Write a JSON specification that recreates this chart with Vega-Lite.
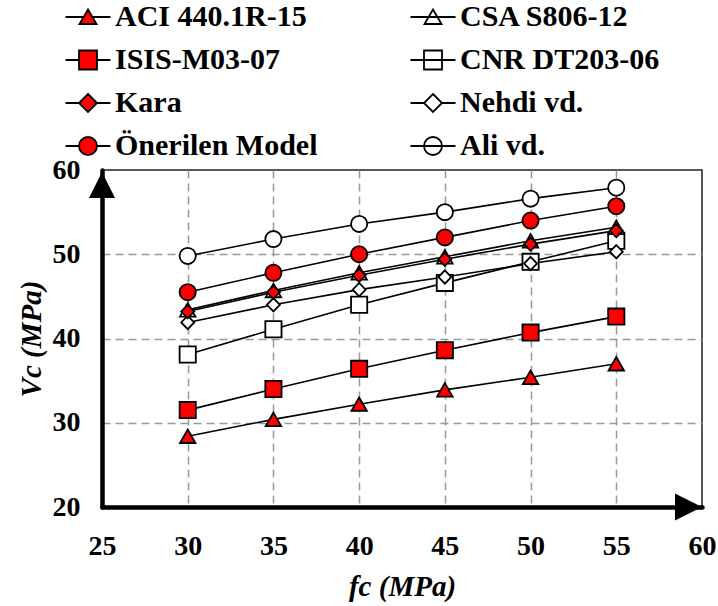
{
  "$schema": "https://vega.github.io/schema/vega-lite/v6.json",
  "width": 600,
  "height": 337,
  "autosize": "none",
  "padding": {"left": 102, "top": 170, "right": 16, "bottom": 99},
  "background": "white",
  "config": {
    "font": "Liberation Serif",
    "view": {"stroke": "#222222", "strokeWidth": 1.5},
    "axis": {
      "domainColor": "black",
      "domainWidth": 4.5,
      "domainCap": "round",
      "ticks": false,
      "tickSize": 0,
      "labelFont": "Liberation Serif",
      "labelFontWeight": "bold",
      "labelFontSize": 28,
      "labelColor": "black",
      "labelFlush": false,
      "labelOverlap": false,
      "titleFont": "Liberation Serif",
      "titleFontWeight": "bold",
      "titleFontStyle": "italic",
      "titleFontSize": 29,
      "titleColor": "#000000",
      "gridColor": "#999999",
      "gridDash": [8, 5],
      "gridWidth": 1.5
    }
  },
  "data": {
    "values": [
      {"series": "CNR DT203-06", "fc": 30, "Vc": 38.1},
      {"series": "CNR DT203-06", "fc": 35, "Vc": 41.1},
      {"series": "CNR DT203-06", "fc": 40, "Vc": 44.0},
      {"series": "CNR DT203-06", "fc": 45, "Vc": 46.6},
      {"series": "CNR DT203-06", "fc": 50, "Vc": 49.1},
      {"series": "CNR DT203-06", "fc": 55, "Vc": 51.6},
      {"series": "Nehdi vd.", "fc": 30, "Vc": 41.9},
      {"series": "Nehdi vd.", "fc": 35, "Vc": 44.0},
      {"series": "Nehdi vd.", "fc": 40, "Vc": 45.8},
      {"series": "Nehdi vd.", "fc": 45, "Vc": 47.3},
      {"series": "Nehdi vd.", "fc": 50, "Vc": 48.9},
      {"series": "Nehdi vd.", "fc": 55, "Vc": 50.3},
      {"series": "CSA S806-12", "fc": 30, "Vc": 43.4},
      {"series": "CSA S806-12", "fc": 35, "Vc": 45.7},
      {"series": "CSA S806-12", "fc": 40, "Vc": 47.8},
      {"series": "CSA S806-12", "fc": 45, "Vc": 49.7},
      {"series": "CSA S806-12", "fc": 50, "Vc": 51.6},
      {"series": "CSA S806-12", "fc": 55, "Vc": 53.2},
      {"series": "Kara", "fc": 30, "Vc": 43.2},
      {"series": "Kara", "fc": 35, "Vc": 45.5},
      {"series": "Kara", "fc": 40, "Vc": 47.5},
      {"series": "Kara", "fc": 45, "Vc": 49.4},
      {"series": "Kara", "fc": 50, "Vc": 51.2},
      {"series": "Kara", "fc": 55, "Vc": 52.8},
      {"series": "ACI 440.1R-15", "fc": 30, "Vc": 28.4},
      {"series": "ACI 440.1R-15", "fc": 35, "Vc": 30.4},
      {"series": "ACI 440.1R-15", "fc": 40, "Vc": 32.2},
      {"series": "ACI 440.1R-15", "fc": 45, "Vc": 33.9},
      {"series": "ACI 440.1R-15", "fc": 50, "Vc": 35.4},
      {"series": "ACI 440.1R-15", "fc": 55, "Vc": 37.0},
      {"series": "ISIS-M03-07", "fc": 30, "Vc": 31.5},
      {"series": "ISIS-M03-07", "fc": 35, "Vc": 34.0},
      {"series": "ISIS-M03-07", "fc": 40, "Vc": 36.4},
      {"series": "ISIS-M03-07", "fc": 45, "Vc": 38.6},
      {"series": "ISIS-M03-07", "fc": 50, "Vc": 40.7},
      {"series": "ISIS-M03-07", "fc": 55, "Vc": 42.6},
      {"series": "Ali vd.", "fc": 30, "Vc": 49.8},
      {"series": "Ali vd.", "fc": 35, "Vc": 51.8},
      {"series": "Ali vd.", "fc": 40, "Vc": 53.6},
      {"series": "Ali vd.", "fc": 45, "Vc": 55.0},
      {"series": "Ali vd.", "fc": 50, "Vc": 56.6},
      {"series": "Ali vd.", "fc": 55, "Vc": 57.9},
      {"series": "Önerilen Model", "fc": 30, "Vc": 45.5},
      {"series": "Önerilen Model", "fc": 35, "Vc": 47.8},
      {"series": "Önerilen Model", "fc": 40, "Vc": 50.0},
      {"series": "Önerilen Model", "fc": 45, "Vc": 52.0},
      {"series": "Önerilen Model", "fc": 50, "Vc": 54.0},
      {"series": "Önerilen Model", "fc": 55, "Vc": 55.7}
    ]
  },
  "resolve": {"scale": {"shape": "independent", "fill": "independent"}},
  "layer": [
    {
      "mark": {"type": "line", "color": "black", "strokeWidth": 1.6},
      "encoding": {
        "x": {
          "field": "fc", "type": "quantitative",
          "scale": {"domain": [25, 60], "nice": false, "zero": false},
          "axis": {
            "title": "fc (MPa)",
            "values": [25, 30, 35, 40, 45, 50, 55, 60],
            "labelPadding": 25,
            "titlePadding": 12,
            "gridOpacity": {"condition": {"test": "datum.value == 25 || datum.value == 60", "value": 0}, "value": 1}
          }
        },
        "y": {
          "field": "Vc", "type": "quantitative",
          "scale": {"domain": [20, 60], "nice": false, "zero": false},
          "axis": {
            "title": "Vc (MPa)",
            "values": [20, 30, 40, 50, 60],
            "labelPadding": 22,
            "titlePadding": 6,
            "gridOpacity": {"condition": {"test": "datum.value == 20 || datum.value == 60", "value": 0}, "value": 1}
          }
        },
        "detail": {"field": "series", "type": "nominal"}
      }
    },
    {
      "mark": {"type": "point", "filled": true, "opacity": 1, "size": 324, "stroke": "black", "strokeWidth": 1.8},
      "encoding": {
        "x": {"field": "fc", "type": "quantitative", "scale": {"domain": [25, 60], "nice": false, "zero": false}},
        "y": {"field": "Vc", "type": "quantitative", "scale": {"domain": [20, 60], "nice": false, "zero": false}},
        "fill": {
          "field": "series", "type": "nominal", "legend": null,
          "scale": {
            "domain": ["ACI 440.1R-15", "CSA S806-12", "ISIS-M03-07", "CNR DT203-06", "Kara", "Nehdi vd.", "Önerilen Model", "Ali vd."],
            "range": ["#ff0000", "#ffffff", "#ff0000", "#ffffff", "#ff0000", "#ffffff", "#ff0000", "#ffffff"]
          }
        },
        "shape": {
          "field": "series", "type": "nominal", "legend": null,
          "scale": {
            "domain": ["ACI 440.1R-15", "CSA S806-12", "ISIS-M03-07", "CNR DT203-06", "Kara", "Nehdi vd.", "Önerilen Model", "Ali vd."],
            "range": [
              "M0,-0.75L0.86,0.75L-0.86,0.75Z",
              "M0,-0.75L0.86,0.75L-0.86,0.75Z",
              "M-0.9,-0.9H0.9V0.9H-0.9Z",
              "M-0.9,-0.9H0.9V0.9H-0.9Z",
              "M0,-0.74L0.72,0L0,0.74L-0.72,0Z",
              "M0,-0.74L0.72,0L0,0.74L-0.72,0Z",
              "M-0.9,0A0.9,0.9 0 1,0 0.9,0A0.9,0.9 0 1,0 -0.9,0Z",
              "M-0.9,0A0.9,0.9 0 1,0 0.9,0A0.9,0.9 0 1,0 -0.9,0Z"
            ]
          }
        }
      }
    },
    {
      "transform": [{"filter": "false"}],
      "mark": {"type": "point", "filled": true, "opacity": 1, "stroke": "black", "strokeWidth": 1.8},
      "encoding": {
        "fill": {
          "field": "series", "type": "nominal",
          "scale": {
            "domain": ["ACI 440.1R-15", "CSA S806-12", "ISIS-M03-07", "CNR DT203-06", "Kara", "Nehdi vd.", "Önerilen Model", "Ali vd."],
            "range": ["#ff0000", "#ffffff", "#ff0000", "#ffffff", "#ff0000", "#ffffff", "#ff0000", "#ffffff"]
          },
          "legend": {
            "title": null, "orient": "none", "legendX": -29, "legendY": -168, "columns": 2, "direction": "horizontal",
            "padding": 0, "rowPadding": 13, "columnPadding": 88,
            "symbolSize": 400, "symbolStrokeWidth": 1.8, "labelOffset": 12,
            "labelFont": "Liberation Serif", "labelFontWeight": "bold", "labelFontSize": 30, "labelColor": "black", "labelLimit": 400
          }
        },
        "shape": {
          "field": "series", "type": "nominal",
          "scale": {
            "domain": ["ACI 440.1R-15", "CSA S806-12", "ISIS-M03-07", "CNR DT203-06", "Kara", "Nehdi vd.", "Önerilen Model", "Ali vd."],
            "range": [
              "M-2.25,0H-0.44M0.44,0H2.25M0,-0.75L0.85,0.7L-0.85,0.7Z",
              "M-2.25,0H2.25M0,-0.75L0.85,0.7L-0.85,0.7Z",
              "M-2.25,0H-0.9M0.9,0H2.25M-0.9,-0.95H0.9V0.95H-0.9Z",
              "M-2.25,0H2.25M-0.9,-0.95H0.9V0.95H-0.9Z",
              "M-2.25,0H-0.9M0.9,0H2.25M0,-0.9L0.9,0L0,0.9L-0.9,0Z",
              "M-2.25,0H-0.9M0.9,0H2.25M0,-0.9L0.9,0L0,0.9L-0.9,0Z",
              "M-2.25,0H-0.9M0.9,0H2.25M-0.9,0A0.9,0.9 0 1,0 0.9,0A0.9,0.9 0 1,0 -0.9,0Z",
              "M-2.25,0H2.25M-0.9,0A0.9,0.9 0 1,0 0.9,0A0.9,0.9 0 1,0 -0.9,0Z"
            ]
          },
          "legend": {
            "title": null, "orient": "none", "legendX": -29, "legendY": -168, "columns": 2, "direction": "horizontal",
            "padding": 0, "rowPadding": 13, "columnPadding": 88,
            "symbolSize": 400, "symbolStrokeWidth": 1.8, "labelOffset": 12,
            "labelFont": "Liberation Serif", "labelFontWeight": "bold", "labelFontSize": 30, "labelColor": "black", "labelLimit": 400
          }
        }
      }
    },
    {
      "data": {"values": [{}]},
      "mark": {"type": "point", "shape": "M0,-1L1,1L-1,1Z", "size": 676, "filled": true, "color": "black", "opacity": 1, "yOffset": 15},
      "encoding": {
        "x": {"datum": 25, "type": "quantitative", "scale": {"domain": [25, 60], "nice": false, "zero": false}},
        "y": {"datum": 60, "type": "quantitative", "scale": {"domain": [20, 60], "nice": false, "zero": false}}
      }
    },
    {
      "data": {"values": [{}]},
      "mark": {"type": "point", "shape": "M1,0L-1,-1L-1,1Z", "size": 729, "filled": true, "color": "black", "opacity": 1, "xOffset": -13.5},
      "encoding": {
        "x": {"datum": 60, "type": "quantitative", "scale": {"domain": [25, 60], "nice": false, "zero": false}},
        "y": {"datum": 20, "type": "quantitative", "scale": {"domain": [20, 60], "nice": false, "zero": false}}
      }
    }
  ]
}
